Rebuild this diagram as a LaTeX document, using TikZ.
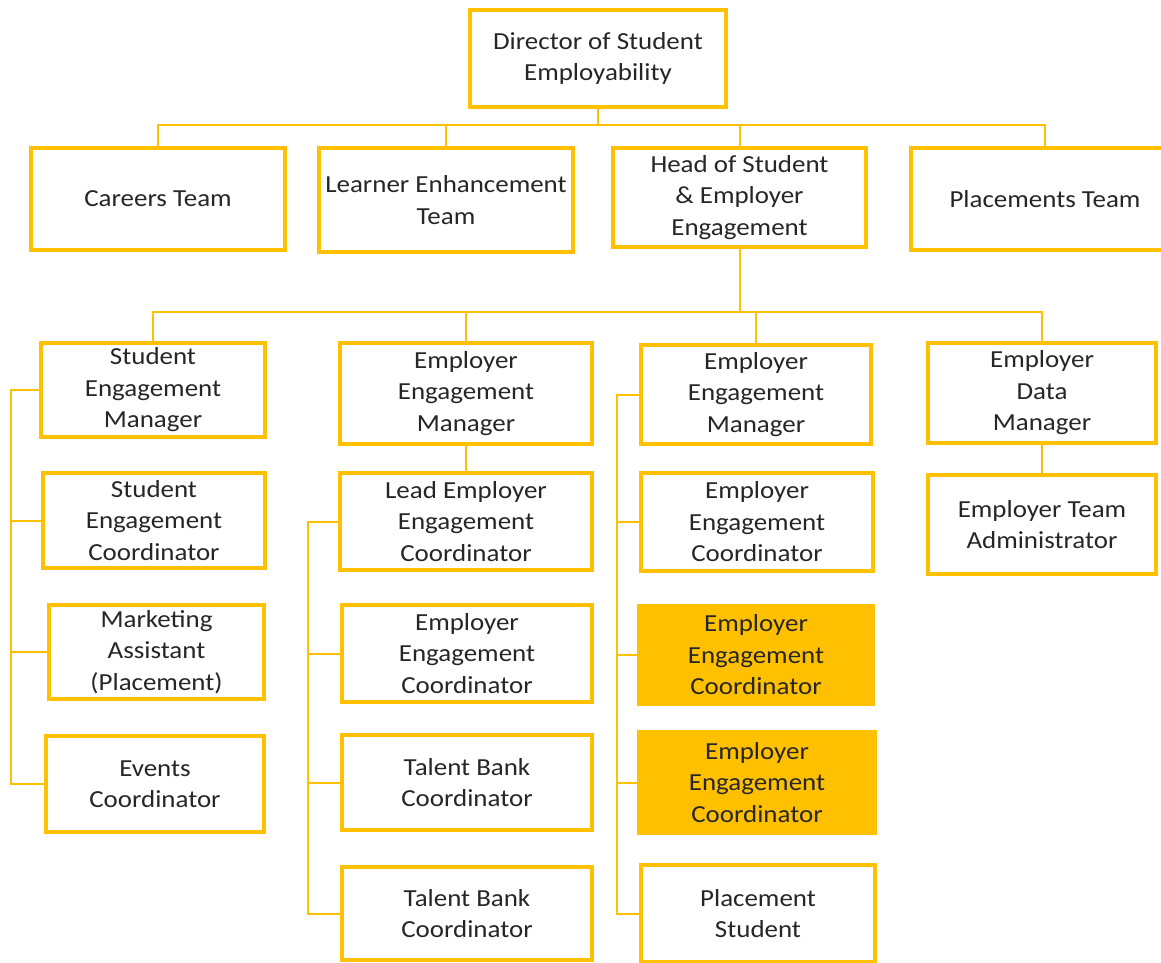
\documentclass[tikz,border=0pt]{standalone}
\usepackage{fontspec}
\setmainfont{Carlito}[FakeStretch=1.1]
\definecolor{gold}{HTML}{FFC000}
\definecolor{txt}{HTML}{262626}
\begin{document}
\begin{tikzpicture}[x=1pt,y=-1pt,
  box/.style={draw=gold, line width=3.5pt, fill=white, align=center, inner sep=0pt,
    text=txt, font=\fontsize{24.5}{31.5}\selectfont},
  hibox/.style={box, fill=gold},
  conn/.style={draw=gold, line width=2pt}]
\useasboundingbox (0,0) rectangle (1161,963);
\clip (0,0) rectangle (1161,963);
\fill[white] (0,0) rectangle (1161,963);
% level 0 and 1
\node[box, minimum width=256pt, minimum height=97pt] (dir) at (598,58.5) {Director of Student\\Employability};
\node[box, minimum width=254pt, minimum height=102pt] (careers) at (158,199) {Careers Team};
\node[box, minimum width=254pt, minimum height=104pt] (learner) at (446,200) {Learner Enhancement\\Team};
\node[box, minimum width=253pt, minimum height=99pt] (head) at (739.5,197.5) {Head of Student\\\& Employer\\Engagement};
\node[box, minimum width=268pt, minimum height=102pt] (place) at (1045,199) {Placements Team};
% level 2
\node[box, minimum width=224pt, minimum height=94pt] (sem) at (153,390) {Student\\Engagement\\Manager};
\node[box, minimum width=252pt, minimum height=101pt] (eem2) at (466,393.5) {Employer\\Engagement\\Manager};
\node[box, minimum width=230pt, minimum height=99pt] (eem3) at (756,394.5) {Employer\\Engagement\\Manager};
\node[box, minimum width=228pt, minimum height=100pt] (edm) at (1042,393) {Employer\\Data\\Manager};
% column 1
\node[box, minimum width=222pt, minimum height=95pt] (sec) at (154,520.5) {Student\\Engagement\\Coordinator};
\node[box, minimum width=215pt, minimum height=94pt] (mkt) at (156.5,652) {Marketing\\Assistant\\(Placement)};
\node[box, minimum width=218pt, minimum height=96pt] (events) at (155,784) {Events\\Coordinator};
% column 2
\node[box, minimum width=252pt, minimum height=97pt] (lead) at (466,521.5) {Lead Employer\\Engagement\\Coordinator};
\node[box, minimum width=250pt, minimum height=97pt] (eec2) at (467,653.5) {Employer\\Engagement\\Coordinator};
\node[box, minimum width=250pt, minimum height=95pt] (tb1) at (467,782.5) {Talent Bank\\Coordinator};
\node[box, minimum width=250pt, minimum height=93pt] (tb2) at (467,913.5) {Talent Bank\\Coordinator};
% column 3
\node[box, minimum width=232pt, minimum height=98pt] (eec3) at (757,522) {Employer\\Engagement\\Coordinator};
\node[hibox, minimum width=234pt, minimum height=98pt] (fill1) at (756,655) {Employer\\Engagement\\Coordinator};
\node[hibox, minimum width=236pt, minimum height=101pt] (fill2) at (757,782.5) {Employer\\Engagement\\Coordinator};
\node[box, minimum width=234pt, minimum height=97pt] (ps) at (758,913.5) {Placement\\Student};
% column 4
\node[box, minimum width=228pt, minimum height=99pt] (eta) at (1042,524.5) {Employer Team\\Administrator};
% connectors level 1
\coordinate (b1) at (598,125);
\draw[conn] (dir.south) -- (b1);
\draw[conn] (careers.north) -- (careers.north |- b1) -- (place.north |- b1) -- (place.north);
\draw[conn] (learner.north) -- (learner.north |- b1);
\draw[conn] (head.north) -- (head.north |- b1);
% connectors level 2
\coordinate (b2) at (739.5,312);
\draw[conn] (head.south) -- (b2);
\draw[conn] (sem.north) -- (sem.north |- b2) -- (edm.north |- b2) -- (edm.north);
\draw[conn] (eem2.north) -- (eem2.north |- b2);
\draw[conn] (eem3.north) -- (eem3.north |- b2);
% column 1 spine
\coordinate (s1) at (11,390);
\draw[conn] (sem.west) -- (sem.west -| s1) -- (events.west -| s1) -- (events.west);
\draw[conn] (sec.west) -- (sec.west -| s1);
\draw[conn] (mkt.west) -- (mkt.west -| s1);
% column 2
\draw[conn] (eem2.south) -- (lead.north);
\coordinate (s2) at (308,521.5);
\draw[conn] (lead.west) -- (lead.west -| s2) -- (tb2.west -| s2) -- (tb2.west);
\draw[conn] (eec2.west) -- (eec2.west -| s2);
\draw[conn] (tb1.west) -- (tb1.west -| s2);
% column 3
\coordinate (s3) at (617,394.5);
\draw[conn] (eem3.west) -- (eem3.west -| s3) -- (ps.west -| s3) -- (ps.west);
\draw[conn] (eec3.west) -- (eec3.west -| s3);
\draw[conn] (fill1.west) -- (fill1.west -| s3);
\draw[conn] (fill2.west) -- (fill2.west -| s3);
% column 4
\draw[conn] (edm.south) -- (eta.north);
\end{tikzpicture}
\end{document}
